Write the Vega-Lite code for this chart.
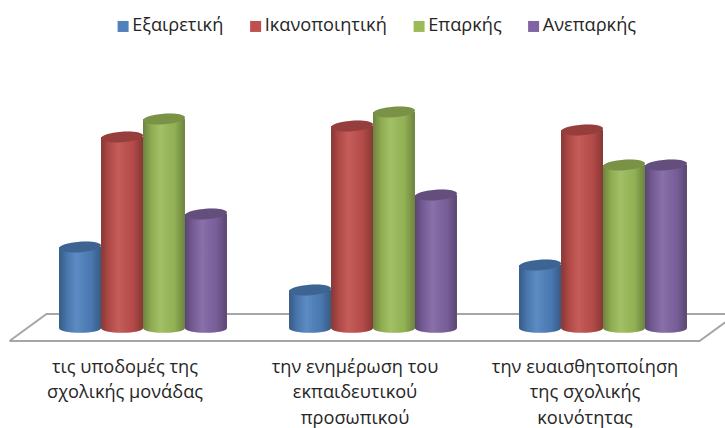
{"$schema":"https://vega.github.io/schema/vega-lite/v6.json","width":690,"height":265,"autosize":{"type":"none"},"padding":{"left":28,"top":78,"right":7,"bottom":85},"background":"white","config":{"view":{"stroke":null},"font":"Open Sans"},"datasets":{"bars":[{"g":"τις υποδομές της|σχολικής μονάδας","s":"Εξαιρετική","v":16.2},{"g":"τις υποδομές της|σχολικής μονάδας","s":"Ικανοποιητική","v":38.2},{"g":"τις υποδομές της|σχολικής μονάδας","s":"Επαρκής","v":41.8},{"g":"τις υποδομές της|σχολικής μονάδας","s":"Ανεπαρκής","v":22.8},{"g":"την ενημέρωση του|εκπαιδευτικού|προσωπικού","s":"Εξαιρετική","v":7.6},{"g":"την ενημέρωση του|εκπαιδευτικού|προσωπικού","s":"Ικανοποιητική","v":40.4},{"g":"την ενημέρωση του|εκπαιδευτικού|προσωπικού","s":"Επαρκής","v":43.2},{"g":"την ενημέρωση του|εκπαιδευτικού|προσωπικού","s":"Ανεπαρκής","v":26.6},{"g":"την ευαισθητοποίηση|της σχολικής|κοινότητας","s":"Εξαιρετική","v":12.6},{"g":"την ευαισθητοποίηση|της σχολικής|κοινότητας","s":"Ικανοποιητική","v":39.6},{"g":"την ευαισθητοποίηση|της σχολικής|κοινότητας","s":"Επαρκής","v":32.6},{"g":"την ευαισθητοποίηση|της σχολικής|κοινότητας","s":"Ανεπαρκής","v":32.6}],"floor":[{"fx":-2.68,"fy":-2.6,"o":0},{"fx":2.68,"fy":2.8,"o":1},{"fx":102.68,"fy":2.8,"o":2},{"fx":97.32,"fy":-2.6,"o":3},{"fx":-2.68,"fy":-2.6,"o":4}]},"resolve":{"scale":{"x":"independent"}},"layer":[{"data":{"name":"floor"},"mark":{"type":"line","color":"#a6a6a6","strokeWidth":2,"clip":false},"encoding":{"x":{"field":"fx","type":"quantitative","axis":null,"scale":{"domain":[0,100],"nice":false,"zero":false}},"y":{"field":"fy","type":"quantitative","axis":null,"scale":{"domain":[-3,50],"nice":false}},"order":{"field":"o","type":"quantitative"}}},{"data":{"name":"bars"},"encoding":{"x":{"field":"g","type":"nominal","sort":null,"title":null,"scale":{"paddingInner":0.27,"paddingOuter":0.135},"axis":{"domain":false,"ticks":false,"labelAngle":0,"labelFontSize":18.2,"labelColor":"#262626","labelPadding":15,"labelOffset":-18,"labelLimit":0,"labelLineHeight":25.5,"labelOverlap":false,"labelBound":false,"labelFlush":false,"labelExpr":"split(datum.label,'|')","labelBaseline":"top"}},"xOffset":{"field":"s","type":"nominal","sort":["Εξαιρετική","Ικανοποιητική","Επαρκής","Ανεπαρκής"],"scale":{"paddingInner":0,"paddingOuter":0}},"y":{"field":"v","type":"quantitative","axis":null,"scale":{"domain":[-3,50],"nice":false}},"color":{"field":"s","type":"nominal","sort":["Εξαιρετική","Ικανοποιητική","Επαρκής","Ανεπαρκής"],"scale":{"domain":["Εξαιρετική","Ικανοποιητική","Επαρκής","Ανεπαρκής"],"range":["#4f81bd","#c0504d","#9bbb59","#8064a2"]},"legend":{"title":null,"orient":"none","legendX":86,"legendY":-61,"direction":"horizontal","symbolType":"square","symbolSize":121,"symbolStrokeWidth":0,"symbolOpacity":1,"labelFontSize":18.2,"labelColor":"#262626","labelOffset":0,"columnPadding":22.5,"labelLimit":0}}},"layer":[{"mark":{"type":"point","filled":true,"opacity":1,"size":1764,"shape":"M-1,0 A1,0.23 0 1 0 1,0 A1,0.23 0 1 0 -1,0 Z"},"encoding":{"y":{"datum":0}}},{"mark":{"type":"point","filled":true,"opacity":1,"size":1764,"shape":"M-1,0 A1,0.23 0 1 0 1,0 A1,0.23 0 1 0 -1,0 Z","fill":{"x1":0,"y1":0,"x2":1,"y2":0,"gradient":"linear","stops":[{"offset":0,"color":"rgba(0,0,0,0.3)"},{"offset":0.2,"color":"rgba(0,0,0,0.08)"},{"offset":0.42,"color":"rgba(255,255,255,0.08)"},{"offset":0.75,"color":"rgba(0,0,0,0.06)"},{"offset":1,"color":"rgba(0,0,0,0.3)"}]}},"encoding":{"y":{"datum":0},"color":{"value":null}}},{"mark":{"type":"bar"},"encoding":{"y2":{"datum":0}}},{"mark":{"type":"bar","fill":{"x1":0,"y1":0,"x2":1,"y2":0,"gradient":"linear","stops":[{"offset":0,"color":"rgba(0,0,0,0.3)"},{"offset":0.2,"color":"rgba(0,0,0,0.08)"},{"offset":0.42,"color":"rgba(255,255,255,0.08)"},{"offset":0.75,"color":"rgba(0,0,0,0.06)"},{"offset":1,"color":"rgba(0,0,0,0.3)"}]}},"encoding":{"y2":{"datum":0},"color":{"value":null}}},{"mark":{"type":"point","filled":true,"opacity":1,"size":1764,"shape":"M-1,0.07 A1,0.25 -4 1 1 1,-0.07 A1,0.25 -4 1 1 -1,0.07 Z"}},{"mark":{"type":"point","filled":true,"opacity":1,"size":1764,"shape":"M-1,0.07 A1,0.25 -4 1 1 1,-0.07 A1,0.25 -4 1 1 -1,0.07 Z","fill":"rgba(0,0,0,0.22)"},"encoding":{"color":{"value":null}}}]}]}
